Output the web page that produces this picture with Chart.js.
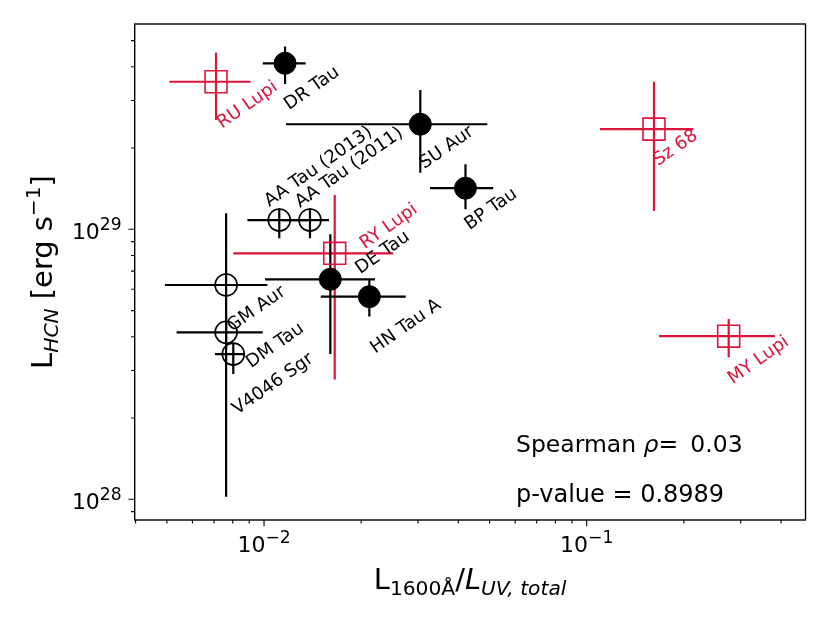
<!DOCTYPE html>
<html>
<head>
<meta charset="utf-8">
<script src="https://cdn.jsdelivr.net/npm/chart.js@4.4.0/dist/chart.umd.min.js"></script>
<style>
  html, body { margin: 0; padding: 0; background: #fff; }
  #wrap { width: 830px; height: 623px; }
</style>
</head>
<body>
<div id="wrap"><canvas id="hcnChart" width="830" height="623"></canvas></div>
<script>
// sources, in plotting groups: filled = full disks, open = transition disks, lupus = red squares
const sources = ['DR Tau', 'SU Aur', 'BP Tau', 'DE Tau', 'HN Tau A',
  'AA Tau (2013)', 'AA Tau (2011)', 'GM Aur', 'DM Tau', 'V4046 Sgr',
  'RU Lupi', 'RY Lupi', 'Sz 68', 'MY Lupi'];
const group = ['filled', 'filled', 'filled', 'filled', 'filled',
  'open', 'open', 'open', 'open', 'open',
  'lupus', 'lupus', 'lupus', 'lupus'];

// L_1600A / L_UV,total with lower / upper error bounds
const uvRatio = [0.01162, 0.0305, 0.0421, 0.01605, 0.0212,
  0.01115, 0.01388, 0.00763, 0.00763, 0.00803,
  0.0071, 0.01656, 0.1616, 0.2754];
const uvRatioLow = [0.00991, 0.0117, 0.0327, 0.01007, 0.01499,
  0.00888, 0.0114, 0.00493, 0.00536, 0.00705,
  0.005087, 0.00803, 0.110, 0.1675];
const uvRatioHigh = [0.01346, 0.0492, 0.0513, 0.02208, 0.02749,
  0.0136, 0.0159, 0.01024, 0.00991, 0.00873,
  0.00909, 0.02516, 0.214, 0.3832];

// L_HCN [erg/s] with lower / upper error bounds
const lumHcn = [4.12e29, 2.45e29, 1.42e29, 6.53e28, 5.63e28,
  1.082e29, 1.082e29, 6.22e28, 4.155e28, 3.45e28,
  3.52e29, 8.15e28, 2.35e29, 4.02e28];
const lumHcnLow = [3.45e29, 1.62e29, 1.186e29, 3.45e28, 4.75e28,
  9.26e28, 9.26e28, 1.022e28, 3.6e28, 2.91e28,
  2.54e29, 2.78e28, 1.169e29, 3.357e28];
const lumHcnHigh = [4.75e29, 3.28e29, 1.74e29, 9.58e28, 6.53e28,
  1.196e29, 1.196e29, 1.146e29, 4.8e28, 3.78e28,
  4.52e29, 1.34e29, 3.52e29, 4.655e28];

// axis ranges and ticks
const xRange = [0.003974, 0.4764];
const yRange = [8.38e27, 5.761e29];
const xMajorTicks = [0.01, 0.1];
const xMinorTicks = [0.004, 0.005, 0.006, 0.007, 0.008, 0.009,
  0.02, 0.03, 0.04, 0.05, 0.06, 0.07, 0.08, 0.09, 0.2, 0.3, 0.4];
const yMajorTicks = [1e28, 1e29];
const yMinorTicks = [9e27, 2e28, 3e28, 4e28, 5e28, 6e28, 7e28, 8e28, 9e28,
  2e29, 3e29, 4e29, 5e29];

const statLines = ['0.03', '0.8989'];

// label placement (pixel offset from the marker to the text start)
const labelOffsets = [[4, 47], [4, 45], [4, 42], [30, -5], [6, 57],
  [-10, -13], [-10, -12], [6, 47], [25, 36], [4, 61],
  [6, 47], [30, -4], [4, 37], [4, 48]];

const RED = '#dc143c';
const FONT = '"DejaVu Sans", "Noto Sans", sans-serif';
const TICK_SIZE = 22;

function isMajor(v) {
  const l = Math.log10(v);
  return Math.abs(l - Math.round(l)) < 1e-9;
}
function powParts(v) {
  const e = Math.round(Math.log10(v));
  return [{ t: '10' }, { t: String(e).replace('-', '\u2212'), sup: true }];
}

function pointsFor(g) {
  const pts = [];
  sources.forEach((s, i) => {
    if (group[i] === g) pts.push({ x: uvRatio[i], y: lumHcn[i] });
  });
  return pts;
}

// mathtext-like run of text: sub / sup / italic pieces, baseline at y
function drawRich(ctx, parts, x, y, size, align, supScale) {
  const ss = supScale || 0.7;
  const pieces = parts.map(p => {
    const s = (p.sub || p.sup) ? size * ss : size;
    const font = (p.it ? 'italic ' : '') + s + 'px ' + FONT;
    ctx.font = font;
    return { t: p.t, font, w: ctx.measureText(p.t).width,
      dy: p.sub ? size * 0.22 : (p.sup ? -size * 0.42 : 0) };
  });
  const total = pieces.reduce((a, p) => a + p.w, 0);
  let cx = x;
  if (align === 'center') cx = x - total / 2;
  if (align === 'right') cx = x - total;
  ctx.textAlign = 'left';
  ctx.textBaseline = 'alphabetic';
  pieces.forEach(p => {
    ctx.font = p.font;
    ctx.fillText(p.t, cx, y + p.dy);
    cx += p.w;
  });
}

const errorBarPlugin = {
  id: 'errorBars',
  beforeDatasetsDraw(chart) {
    const { ctx, chartArea, scales } = chart;
    ctx.save();
    ctx.beginPath();
    ctx.rect(chartArea.left, chartArea.top, chartArea.right - chartArea.left, chartArea.bottom - chartArea.top);
    ctx.clip();
    ctx.lineWidth = 2.2;
    ctx.lineCap = 'butt';
    ['lupus', 'open', 'filled'].forEach(g => {
      sources.forEach((s, i) => {
        if (group[i] !== g) return;
        const px = scales.x.getPixelForValue(uvRatio[i]);
        const py = scales.y.getPixelForValue(lumHcn[i]);
        ctx.strokeStyle = g === 'lupus' ? RED : '#000';
        ctx.beginPath();
        ctx.moveTo(scales.x.getPixelForValue(uvRatioLow[i]), py);
        ctx.lineTo(scales.x.getPixelForValue(uvRatioHigh[i]), py);
        ctx.moveTo(px, scales.y.getPixelForValue(lumHcnLow[i]));
        ctx.lineTo(px, scales.y.getPixelForValue(lumHcnHigh[i]));
        ctx.stroke();
      });
    });
    ctx.restore();
  }
};

const decorPlugin = {
  id: 'decor',
  afterDatasetsDraw(chart) {
    const { ctx, chartArea, scales } = chart;
    const { left, right, top, bottom } = chartArea;
    ctx.save();

    // source names
    ctx.font = '18px ' + FONT;
    ctx.textAlign = 'left';
    ctx.textBaseline = 'alphabetic';
    sources.forEach((s, i) => {
      const px = scales.x.getPixelForValue(uvRatio[i]);
      const py = scales.y.getPixelForValue(lumHcn[i]);
      ctx.save();
      ctx.translate(px + labelOffsets[i][0], py + labelOffsets[i][1]);
      ctx.rotate(-35 * Math.PI / 180);
      ctx.fillStyle = group[i] === 'lupus' ? RED : '#000';
      ctx.fillText(s, 0, 0);
      ctx.restore();
    });

    // frame
    ctx.strokeStyle = '#000';
    ctx.lineWidth = 1.4;
    ctx.strokeRect(left, top, right - left, bottom - top);

    // tick marks
    ctx.beginPath();
    scales.x.ticks.forEach(t => {
      const x = scales.x.getPixelForValue(t.value);
      const len = isMajor(t.value) ? 6.3 : 3.6;
      ctx.moveTo(x, bottom);
      ctx.lineTo(x, bottom + len);
    });
    scales.y.ticks.forEach(t => {
      const y = scales.y.getPixelForValue(t.value);
      const len = isMajor(t.value) ? 6.3 : 3.6;
      ctx.moveTo(left, y);
      ctx.lineTo(left - len, y);
    });
    ctx.lineWidth = 1.1;
    ctx.stroke();

    // tick labels (powers of ten)
    ctx.fillStyle = '#000';
    scales.x.ticks.forEach(t => {
      if (!isMajor(t.value)) return;
      drawRich(ctx, powParts(t.value), scales.x.getPixelForValue(t.value), bottom + 32,
        TICK_SIZE, 'center', 0.78);
    });
    scales.y.ticks.forEach(t => {
      if (!isMajor(t.value)) return;
      drawRich(ctx, powParts(t.value), left - 13, scales.y.getPixelForValue(t.value) + 10,
        TICK_SIZE, 'right', 0.78);
    });

    // correlation text
    const tx = left + 0.5684 * (right - left);
    drawRich(ctx, [{ t: 'Spearman ' }, { t: '\u03c1', it: true }, { t: '=\u2009 ' + statLines[0] }],
      tx, top + 0.862 * (bottom - top), 23.5, 'left');
    drawRich(ctx, [{ t: 'p-value = ' + statLines[1] }],
      tx, top + 0.963 * (bottom - top), 24, 'left');

    // axis titles
    drawRich(ctx, [{ t: 'L' }, { t: '1600\u00c5', sub: true }, { t: '/' }, { t: 'L', it: true },
      { t: 'UV, total', it: true, sub: true }], (left + right) / 2, 589, 28.9, 'center');
    ctx.save();
    ctx.translate(52, (top + bottom) / 2);
    ctx.rotate(-Math.PI / 2);
    drawRich(ctx, [{ t: 'L' }, { t: 'HCN', it: true, sub: true }, { t: ' [erg s' },
      { t: '\u22121', sup: true }, { t: ']' }], 0, 0, 28.9, 'center');
    ctx.restore();

    ctx.restore();
  }
};

new Chart(document.getElementById('hcnChart').getContext('2d'), {
  type: 'scatter',
  data: {
    datasets: [
      {
        label: 'full disks',
        data: pointsFor('filled'),
        pointStyle: 'circle',
        pointRadius: 11,
        backgroundColor: '#000',
        borderColor: '#000',
        borderWidth: 1
      },
      {
        label: 'transition disks',
        data: pointsFor('open'),
        pointStyle: 'circle',
        pointRadius: 11,
        backgroundColor: 'rgba(0,0,0,0)',
        borderColor: '#000',
        borderWidth: 1.6
      },
      {
        label: 'Lupus',
        data: pointsFor('lupus'),
        pointStyle: 'rect',
        pointRadius: 15.5,
        backgroundColor: 'rgba(0,0,0,0)',
        borderColor: RED,
        borderWidth: 1.6
      }
    ]
  },
  options: {
    responsive: false,
    animation: false,
    devicePixelRatio: 1,
    layout: { padding: { top: 24, right: 24.5, left: 0, bottom: 0 } },
    plugins: {
      legend: { display: false },
      tooltip: { enabled: false }
    },
    scales: {
      x: {
        type: 'logarithmic',
        min: xRange[0],
        max: xRange[1],
        bounds: 'data',
        grid: { display: false, drawTicks: false },
        border: { display: false },
        ticks: { display: false, autoSkip: false },
        afterBuildTicks: scale => {
          scale.ticks = xMinorTicks.concat(xMajorTicks).sort((a, b) => a - b).map(v => ({ value: v }));
        },
        afterFit: scale => {
          scale.height = 103;
          scale.paddingLeft = 0;
          scale.paddingRight = 0;
        }
      },
      y: {
        type: 'logarithmic',
        min: yRange[0],
        max: yRange[1],
        bounds: 'data',
        grid: { display: false, drawTicks: false },
        border: { display: false },
        ticks: { display: false, autoSkip: false },
        afterBuildTicks: scale => {
          scale.ticks = yMinorTicks.concat(yMajorTicks).sort((a, b) => a - b).map(v => ({ value: v }));
        },
        afterFit: scale => {
          scale.width = 134.7;
          scale.paddingTop = 0;
          scale.paddingBottom = 0;
        }
      }
    }
  },
  plugins: [errorBarPlugin, decorPlugin]
});
</script>
</body>
</html>
